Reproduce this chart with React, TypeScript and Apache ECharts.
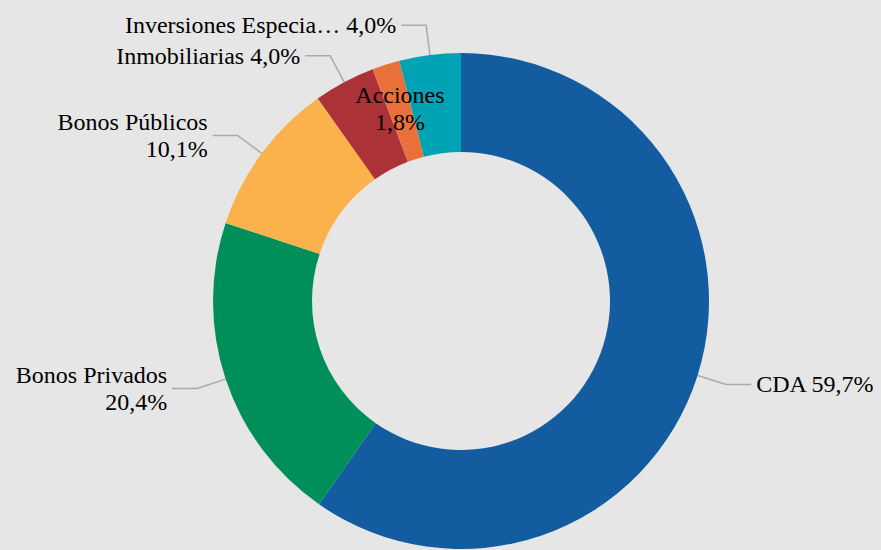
import React, { useEffect, useRef } from "react";
import * as echarts from "echarts";

const categories = ["CDA", "Bonos Privados", "Bonos Públicos", "Inmobiliarias", "Acciones", "Inversiones Especia…"];
const values = [59.7, 20.4, 10.1, 4.0, 1.8, 4.0];
const colors = ["#135ca0", "#008f58", "#fbb24c", "#ab3337", "#e9703a", "#00a3b3"];
const labelSeparators = [" ", "\n", "\n", " ", "\n", " "];
const insideLabels = [false, false, false, false, true, false];

const FONT = "'Times New Roman', 'Liberation Serif', serif";

export default function App() {
  const ref = useRef<HTMLDivElement>(null);
  useEffect(() => {
    document.body.style.margin = "0";
    const chart = echarts.init(ref.current!, null, { renderer: "svg" });
    const data = categories.map((name, i) => ({
      name,
      value: values[i],
      itemStyle: { color: colors[i] },
      label: insideLabels[i] ? { position: "inside", align: "center" } : {},
      labelLine: insideLabels[i] ? { show: false } : { show: true },
    }));
    chart.setOption({
      animation: false,
      backgroundColor: "#e6e6e6",
      series: [
        {
          type: "pie",
          center: [461, 301],
          radius: [149, 248],
          startAngle: 90,
          clockwise: true,
          avoidLabelOverlap: true,
          data,
          label: {
            show: true,
            position: "outside",
            color: "#000",
            fontFamily: FONT,
            fontSize: 24,
            lineHeight: 27,
            overflow: "none",
            edgeDistance: 0,
            formatter: (p: any) =>
              `${p.name}${labelSeparators[p.dataIndex]}${p.value.toFixed(1).replace(".", ",")}%`,
          },
          labelLine: {
            show: true,
            length: 30,
            length2: 25,
            lineStyle: { color: "#aaaaaa", width: 1.5 },
          },
        },
      ],
    });
    return () => chart.dispose();
  }, []);
  return <div ref={ref} style={{ width: 881, height: 550 }} />;
}
